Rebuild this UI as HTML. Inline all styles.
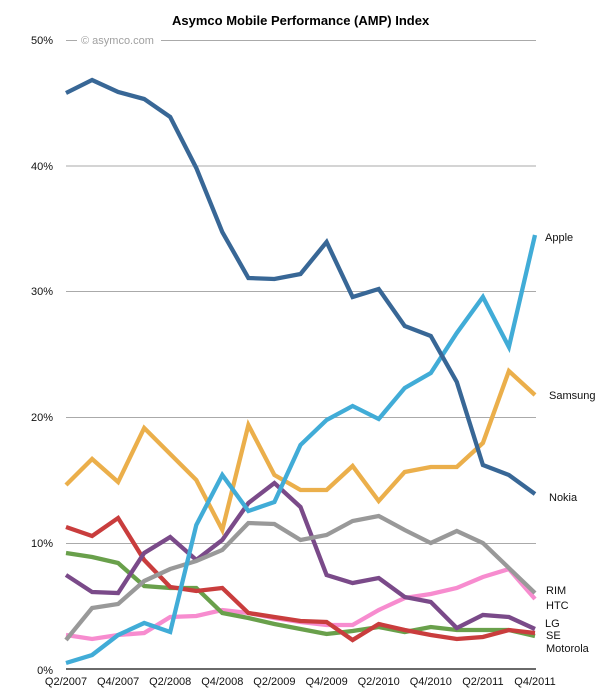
<!DOCTYPE html>
<html>
<head>
<meta charset="utf-8">
<style>
  html,body{margin:0;padding:0;background:#fff;}
  svg{display:block;}
  text{font-family:"Liberation Sans", Arial, sans-serif;}
</style>
</head>
<body>
<svg width="615" height="693" viewBox="0 0 615 693" xmlns="http://www.w3.org/2000/svg">
  <rect width="615" height="693" fill="#fff"/>
  <!-- title -->
  <text x="172" y="25" font-size="13" font-weight="bold" fill="#000">Asymco Mobile Performance (AMP) Index</text>

  <!-- gridlines -->
  <g stroke="#aaaaaa" stroke-width="1">
    <line x1="66" y1="40.5" x2="77" y2="40.5"/>
    <line x1="161" y1="40.5" x2="536" y2="40.5"/>
    <line x1="66" y1="166" x2="536" y2="166"/>
    <line x1="66" y1="291.5" x2="536" y2="291.5"/>
    <line x1="66" y1="417.5" x2="536" y2="417.5"/>
    <line x1="66" y1="543.5" x2="536" y2="543.5"/>
  </g>
  <line x1="66" y1="669" x2="536" y2="669" stroke="#111" stroke-width="1.3"/>

  <text x="81" y="44" font-size="11" fill="#a0a0a0">© asymco.com</text>

  <!-- y labels -->
  <g font-size="11" fill="#111" text-anchor="end">
    <text x="53" y="44">50%</text>
    <text x="53" y="170">40%</text>
    <text x="53" y="295">30%</text>
    <text x="53" y="421">20%</text>
    <text x="53" y="547">10%</text>
    <text x="53" y="674">0%</text>
  </g>

  <!-- x labels -->
  <g font-size="11" fill="#111" text-anchor="middle">
    <text x="66" y="685">Q2/2007</text>
    <text x="118.1" y="685">Q4/2007</text>
    <text x="170.2" y="685">Q2/2008</text>
    <text x="222.3" y="685">Q4/2008</text>
    <text x="274.4" y="685">Q2/2009</text>
    <text x="326.6" y="685">Q4/2009</text>
    <text x="378.7" y="685">Q2/2010</text>
    <text x="430.8" y="685">Q4/2010</text>
    <text x="482.9" y="685">Q2/2011</text>
    <text x="535" y="685">Q4/2011</text>
  </g>

  <g fill="none" stroke-width="4.3" stroke-linejoin="miter" stroke-linecap="butt">
    <!-- HTC pink -->
    <polyline stroke="#f78ccf" points="66,635 92.1,639 118.1,635 144.2,633 170.2,617 196.3,616 222.3,610 248.4,613 274.4,618 300.5,622 326.6,625 352.6,625 378.7,610 404.7,598 430.8,594 456.8,588 482.9,577 508.9,569 535,599"/>
    <!-- Motorola green -->
    <polyline stroke="#69a04b" points="66,553 92.1,557 118.1,563 144.2,586 170.2,588 196.3,588 222.3,613 248.4,618 274.4,624 300.5,629 326.6,634 352.6,631 378.7,627 404.7,632 430.8,627 456.8,630 482.9,630 508.9,630 535,636"/>
    <!-- SE red -->
    <polyline stroke="#c93d3d" points="66,527 92.1,536 118.1,518 144.2,560 170.2,587 196.3,591 222.3,588 248.4,613 274.4,617 300.5,621 326.6,622 352.6,640 378.7,624 404.7,630 430.8,635 456.8,639 482.9,637 508.9,630 535,633"/>
    <!-- LG purple -->
    <polyline stroke="#7a4a89" points="66,575 92.1,592 118.1,593 144.2,553 170.2,537 196.3,560 222.3,540 248.4,503 274.4,483 300.5,507 326.6,575 352.6,583 378.7,578 404.7,597 430.8,602 456.8,628 482.9,615 508.9,617 535,629"/>
    <!-- RIM gray -->
    <polyline stroke="#999999" points="66,640 92.1,608 118.1,604 144.2,581 170.2,569 196.3,561 222.3,550 248.4,523 274.4,524 300.5,540 326.6,535 352.6,521 378.7,516 404.7,530 430.8,543 456.8,531 482.9,543 508.9,568 535,593"/>
    <!-- Samsung orange -->
    <polyline stroke="#ebaf4b" points="66,485 92.1,459 118.1,482 144.2,428 170.2,454 196.3,480 222.3,530 248.4,425 274.4,475 300.5,490 326.6,490 352.6,466 378.7,501 404.7,472 430.8,467 456.8,467 482.9,443 508.9,371 535,395"/>
    <!-- Apple light blue -->
    <polyline stroke="#41acd7" points="66,663 92.1,655 118.1,635 144.2,623 170.2,632 196.3,525 222.3,475 248.4,511 274.4,502 300.5,445 326.6,420 352.6,406 378.7,419 404.7,388 430.8,373 456.8,333 482.9,297 508.9,347 535,235"/>
    <!-- Nokia dark blue -->
    <polyline stroke="#386796" points="66,93 92.1,80 118.1,92 144.2,99 170.2,117 196.3,168 222.3,232 248.4,278 274.4,279 300.5,274 326.6,242 352.6,297 378.7,289 404.7,326 430.8,336 456.8,382 482.9,465 508.9,475 535,494"/>
  </g>

  <!-- series labels -->
  <g font-size="11" fill="#111">
    <text x="545" y="241">Apple</text>
    <text x="549" y="399">Samsung</text>
    <text x="549" y="501">Nokia</text>
    <text x="546" y="594">RIM</text>
    <text x="546" y="609">HTC</text>
    <text x="545" y="627">LG</text>
    <text x="546" y="639">SE</text>
    <text x="546" y="652">Motorola</text>
  </g>
</svg>
</body>
</html>
